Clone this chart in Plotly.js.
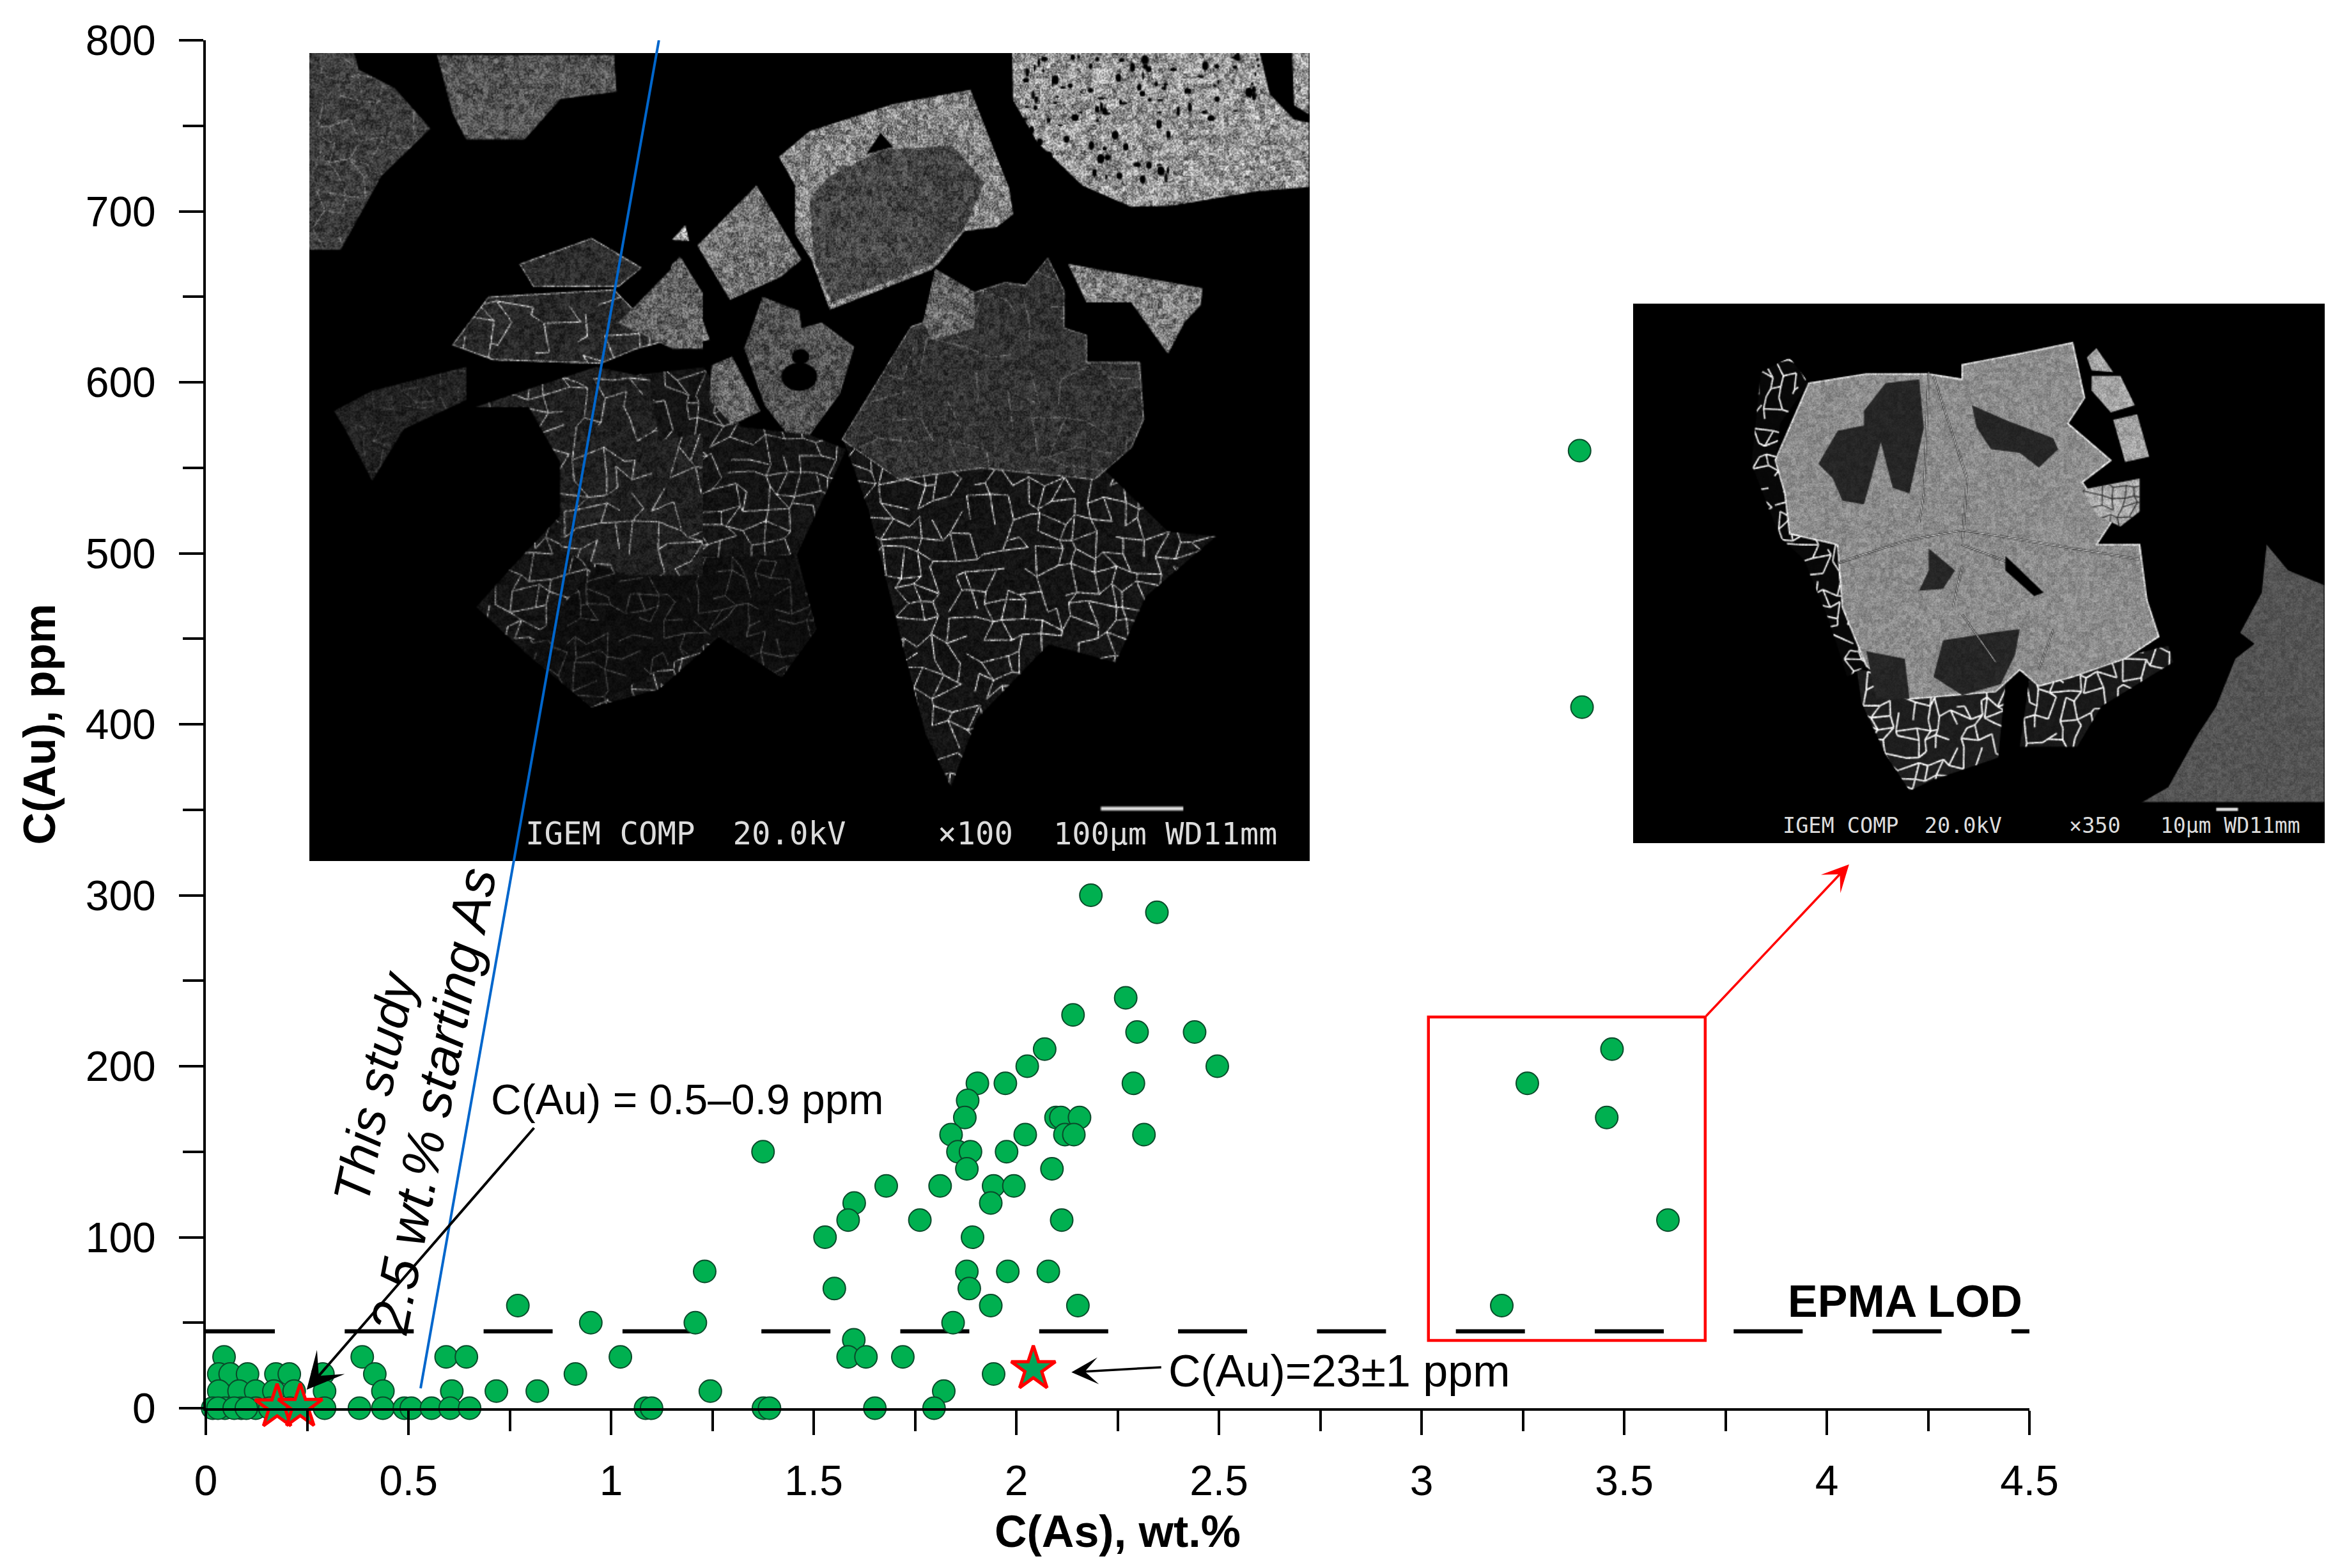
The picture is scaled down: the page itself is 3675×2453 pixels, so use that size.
<!DOCTYPE html>
<html><head><meta charset="utf-8">
<script src="https://cdn.plot.ly/plotly-3.0.1.min.js"></script>
<style>html,body{margin:0;padding:0;background:#fff}</style></head>
<body><div id="chart" style="width:3675px;height:2453px"></div>
<script>
// ---------- data ----------
var asValues = [
 2.184,2.347,2.27,2.14,2.298,2.44,2.07,2.027,2.496,1.904,1.973,2.289,1.88,1.873,2.098,2.11,2.156,1.839,2.022,2.12,2.142,2.315,
 1.856,1.887,1.976,1.375,1.878,2.088,1.679,1.812,1.944,1.994,1.60,1.937,1.585,1.762,2.112,1.528,1.892,1.231,1.878,1.979,2.079,
 1.551,1.884,1.937,2.152,1.208,1.844,1.599,1.585,1.629,1.72,1.944,1.245,1.821,1.085,1.10,1.376,1.391,1.651,1.797,
 3.47,3.261,3.457,3.608,3.198,3.39,3.396,
 0.77,0.95,0.912,1.023,0.386,0.593,0.643,
 0.045,0.032,0.06,0.103,0.173,0.206,0.289,0.417,0.032,0.082,0.123,0.168,0.218,0.293,0.437,0.607,0.717,0.818,
 0.017,0.047,0.0875,0.123,0.158,0.208,0.293,0.379,0.437,0.49,0.507,0.557,0.603,0.651,0.03,0.07,0.1];
var auValues = [
 300,290,240,230,220,220,210,200,200,190,190,190,180,170,170,170,170,160,160,160,160,160,
 150,150,150,150,140,140,130,130,130,130,120,120,110,110,110,100,100,80,80,80,80,
 70,70,60,60,50,50,40,30,30,30,20,10,10,0,0,0,0,0,0,
 210,190,170,110,60,560,410,
 60,50,20,30,30,30,30,
 30,20,20,20,20,20,20,20,10,10,10,10,10,10,10,10,10,10,
 0,0,0,0,0,0,0,0,0,0,0,0,0,0,0,0,0];
var starAs = [0.176,0.233,2.042];
var starAu = [0.7,0.9,23];
var lodX = [0,4.5], lodY = [45,45];
var trendX = [0.53,1.118], trendY = [11.6,800];
var boxX0=3.017, boxX1=3.70, boxY0=39.6, boxY1=228.8;
var xTickVals=[0,0.5,1,1.5,2,2.5,3,3.5,4,4.5], xTickText=['0','0.5','1','1.5','2','2.5','3','3.5','4','4.5'];
var yTickVals=[0,100,200,300,400,500,600,700,800];

// ---------- layout frame, in pixels ----------
var W=3675,H=2453,L=322,R=3175,T=63,B=2203;
function px(x){return (x-L)/(R-L);}
function py(y){return (B-y)/(B-T);}
var FONT='"Liberation Sans", Arial, sans-serif', MONO='"DejaVu Sans Mono", monospace', RED='#ff0000';

// ---------- micrograph sketches (pictures, painted then given to Plotly as layout images) ----------
function hash(i,j){var s=Math.sin(i*127.1+j*311.7)*43758.5453;return s-Math.floor(s);}
function mk(w,h,scale){var c=document.createElement('canvas');c.width=Math.round(w*scale);c.height=Math.round(h*scale);var g=c.getContext('2d');g.fillStyle='#000';g.fillRect(0,0,c.width,c.height);g.scale(scale,scale);return [c,g];}
function path(g,p){g.beginPath();p.forEach(function(q,i){i?g.lineTo(q[0],q[1]):g.moveTo(q[0],q[1]);});g.closePath();}
function fill(g,p,l){path(g,p);g.fillStyle='rgb('+l+','+l+','+l+')';g.fill();}
function veins(g,p,seed,cell,col,lw,keep){g.save();path(g,p);g.clip();
  var xs=p.map(function(a){return a[0]}),ys=p.map(function(a){return a[1]});
  var x0=Math.min.apply(0,xs),x1=Math.max.apply(0,xs),y0=Math.min.apply(0,ys),y1=Math.max.apply(0,ys);
  g.strokeStyle=col;g.lineWidth=lw;keep=keep===undefined?0.3:keep;
  var nx=Math.ceil((x1-x0)/cell)+1,ny=Math.ceil((y1-y0)/cell)+1;
  function P(i,j){return [x0+(i+hash(i+seed,j)*0.95)*cell,y0+(j+hash(i,j+seed)*0.95)*cell];}
  for(var i=0;i<nx;i++)for(var j=0;j<ny;j++){var a=P(i,j),b=P(i+1,j),c=P(i,j+1);
    if(hash(i+seed,j+7)>keep){g.beginPath();g.moveTo(a[0],a[1]);g.lineTo(b[0],b[1]);g.stroke();}
    if(hash(i+3,j+seed)>keep){g.beginPath();g.moveTo(a[0],a[1]);g.lineTo(c[0],c[1]);g.stroke();}}
  g.restore();}
function edge(g,p,col,lw){path(g,p);g.strokeStyle=col;g.lineWidth=lw;g.stroke();}
function grain(c,amount){var g=c.getContext('2d'),d=g.getImageData(0,0,c.width,c.height),a=d.data;
  for(var y=0;y<c.height;y++)for(var x=0;x<c.width;x++){var k=(y*c.width+x)*4;if(a[k]<6)continue;
    var n=(hash(x,y)-0.5)*amount*a[k]+(hash(x>>2,y>>2)-0.5)*amount*0.6*a[k];var v=Math.max(0,Math.min(255,a[k]+n));a[k]=a[k+1]=a[k+2]=v;}
  g.putImageData(d,0,0);}

function paintLarge(){
  var x0=484,y0=83,w=1565,h=1264,r=mk(w,h,0.5),c=r[0],g=r[1];
  function Z5(l){return l.map(function(q){return [1050+q[0]/1.568-x0,q[1]/2.24-y0];});}
  function Z4(l){return l.map(function(q){return [q[0]/1.4255-x0,q[1]/1.742-y0];});}
  function D(l){return l.map(function(q){return [q[0]*2.344-x0,q[1]*2.344-y0];});}
  var b1=Z4([[690,145],[790,145],[800,190],[880,240],[960,350],[850,480],[760,680],[690,680]]);
  fill(g,b1,62);veins(g,b1,3,30,'rgba(190,190,190,.45)',1.5,0.45);
  var b2=Z4([[975,150],[1370,150],[1375,250],[1250,270],[1170,380],[1040,380],[1010,310]]);fill(g,b2,85);
  var a1=Z5([[838,185],[1445,185],[1470,330],[1530,420],[1566,430],[1566,655],[1440,670],[1230,720],[1130,725],[1010,650],[900,500],[840,350]]);fill(g,a1,150);
  g.fillStyle='#000';
  for(var i=0;i<150;i++){var hx=860+hash(i,1)*640,hy=195+hash(i,2)*470;if(hy>250+(hx-1200)*0+ (hx<1000?(1000-hx)*1.6+200:200)&&hx<1000)continue;if(hy>420+(hx>1250?0:240))continue;var e=Z5([[hx,hy]])[0];g.beginPath();g.ellipse(e[0],e[1],1.5+hash(i,3)*4.5,1.5+hash(i,4)*6,0,0,7);g.fill();}
  fill(g,Z5([[1525,185],[1566,185],[1566,400],[1530,370]]),150);
  var a3=Z5([[265,550],[340,460],[480,395],[545,365],[735,315],[830,660],[840,750],[800,795],[720,810],[660,920],[640,945],[390,1085],[345,910],[305,820],[305,650]]);fill(g,a3,132);
  fill(g,Z5([[385,620],[520,525],[690,510],[770,640],[720,800],[640,930],[395,1060],[350,900],[340,700]]),70);
  fill(g,Z5([[480,540],[515,465],[545,515]]),0);
  fill(g,Z5([[210,650],[320,910],[270,970],[145,1050],[65,860]]),115);
  fill(g,Z5([[35,790],[45,845],[3,840]]),170);
  fill(g,Z5([[0,930],[22,900],[95,1190],[0,1220]]),115);
  var a7=Z5([[225,1040],[315,1090],[320,1150],[370,1130],[450,1215],[415,1380],[330,1545],[290,1530],[230,1420],[180,1220]]);fill(g,a7,82);
  var hole=Z5([[315,1320]])[0];g.beginPath();g.ellipse(hole[0],hole[1],28,22,0,0,7);g.fillStyle='#000';g.fill();
  hole=Z5([[318,1250]])[0];g.beginPath();g.ellipse(hole[0],hole[1],14,12,0,0,7);g.fill();
  // lower left mass with its fine vein network
  var d1=D([[385,255],[470,245],[495,285],[540,290],[565,300],[532,370],[545,420],[522,452],[480,425],[440,460],[395,472],[350,435],[318,405],[345,375],[378,340]]);
  fill(g,d1,20);veins(g,d1,11,26,'rgba(225,225,225,.7)',1.8,0.35);
  var d1b=D([[400,375],[530,370],[545,420],[522,452],[480,425],[395,472],[350,435]]);
  fill(g,d1b,14);veins(g,d1b,13,24,'rgba(190,190,190,.45)',1.3,0.5);
  // lower right mass
  var d2=D([[563,293],[625,272],[715,292],[780,355],[812,358],[765,398],[745,442],[700,430],[652,480],[635,525],[618,490],[600,420],[580,340]]);
  fill(g,d2,20);veins(g,d2,5,27,'rgba(235,235,235,.82)',2,0.3);
  var b3=Z4([[1160,720],[1320,650],[1430,730],[1380,780],[1190,780]]);fill(g,b3,45);edge(g,b3,'rgba(210,210,210,.7)',2);
  var b4=Z4([[1010,940],[1090,810],[1370,790],[1480,930],[1420,950],[1340,990],[1100,980]]);fill(g,b4,40);edge(g,b4,'rgba(220,220,220,.7)',2);veins(g,b4,8,34,'rgba(230,230,230,.75)',2,0.45);
  fill(g,Z4([[1380,880],[1520,705],[1568,800],[1568,950],[1500,950]]),100);
  var b6=Z4([[745,1120],[830,1065],[1040,1000],[1040,1090],[900,1170],[830,1310],[770,1170]]);fill(g,b6,34);veins(g,b6,14,20,'rgba(170,170,170,.35)',1.2,0.6);
  var b7=Z4([[1060,1110],[1180,1060],[1330,1000],[1450,1030],[1470,1200],[1568,1180],[1568,1568],[1400,1568],[1250,1500],[1250,1260],[1180,1110]]);fill(g,b7,32);veins(g,b7,2,30,'rgba(225,225,225,.75)',1.8,0.4);
  var a8=Z5([[650,945],[745,1025],[820,990],[870,1000],[925,905],[965,1020],[965,1150],[1020,1175],[1020,1270],[1150,1270],[1160,1470],[1130,1568],[1040,1680],[760,1640],[560,1680],[420,1540],[555,1225],[590,1145],[620,1130]]);fill(g,a8,50);edge(g,a8,'rgba(190,190,190,.55)',2);veins(g,a8,21,40,'rgba(200,200,200,.4)',1.3,0.7);
  fill(g,Z5([[650,945],[745,1025],[745,1150],[640,1190],[620,1130]]),100);
  var a9=Z5([[975,925],[1305,1010],[1300,1070],[1260,1130],[1220,1240],[1130,1060],[1020,1060]]);fill(g,a9,125);
  fill(g,Z5([[100,1280],[150,1250],[220,1440],[150,1490],[95,1400]]),100);
  fill(g,D([[207,552],[218,548],[235,575],[207,575]]),60);
  grain(c,0.85);
  var g2=c.getContext('2d');g2.setTransform(0.5,0,0,0.5,0,0);g2.fillStyle='#000';g2.fillRect(0,1190,w,74);g2.fillStyle='#ddd';g2.fillRect(1723-x0,1262-y0,129,6);
  return c.toDataURL('image/png');
}
function paintSmall(){
  var x0=2555,y0=475,w=1082,h=844,r=mk(w,h,0.6),c=r[0],g=r[1];
  function Z(l){return l.map(function(q){return [2500+q[0]/1.334-x0,450+q[1]/1.742-y0];});}
  var low=Z([[1395,700],[1440,770],[1515,810],[1515,1405],[1130,1405],[1190,1360],[1250,1220],[1290,1140],[1330,1010],[1370,970],[1340,940],[1385,830]]);fill(g,low,84);
  var rim1=Z([[540,1040],[850,1080],[835,1280],[700,1340],[650,1370],[600,1270],[550,1130]]);fill(g,rim1,30);veins(g,rim1,4,20,'rgba(255,255,255,.95)',2.6,0.3);
  var rim2=Z([[900,1070],[1190,975],[1200,1020],[1050,1140],[1000,1250],[880,1250]]);fill(g,rim2,25);veins(g,rim2,9,20,'rgba(255,255,255,.95)',2.6,0.3);
  var rim3=Z([[340,230],[400,190],[440,260],[380,370],[370,470],[390,560],[400,670],[500,700],[510,870],[560,1030],[520,1060],[480,900],[430,740],[380,680],[320,480]]);fill(g,rim3,8);veins(g,rim3,6,18,'rgba(255,255,255,.95)',2.4,0.5);
  var main=Z([[370,470],[440,260],[560,235],[690,235],[760,250],[760,210],[880,180],[990,150],[1015,300],[980,370],[1070,470],[1010,530],[1070,640],[1040,700],[1130,700],[1145,850],[1170,950],[1100,1010],[990,1060],[920,1085],[880,1040],[830,1100],[650,1120],[560,1030],[510,870],[500,700],[400,670],[390,560]]);
  fill(g,main,140);edge(g,main,'rgba(240,240,240,.9)',2.5);
  [[[460,480],[500,390],[555,375],[555,335],[600,260],[670,250],[680,380],[650,560],[615,545],[590,420],[570,520],[555,590],[510,580],[490,520]],
   [[780,320],[850,360],[950,410],[960,440],[920,490],[880,450],[820,440],[790,380]],
   [[690,710],[745,770],[720,820],[670,825],[690,770]],
   [[700,1060],[720,960],[820,940],[880,930],[870,1000],[840,1080],[760,1110]],
   [[560,990],[640,1010],[650,1120],[580,1120]]].forEach(function(p){fill(g,Z(p),38);});
  [[[1020,190],[1040,165],[1075,230],[1030,225]],[[1030,240],[1090,240],[1120,320],[1070,340],[1030,280]],[[1075,360],[1125,345],[1150,460],[1100,475]]].forEach(function(p){fill(g,Z(p),165);});
  var m=Z([[1010,550],[1130,520],[1130,610],[1090,650],[1040,620]]);fill(g,m,175);veins(g,m,1,18,'rgba(40,40,40,.8)',2);
  [[[690,230],[680,560],[670,640]],[[700,240],[770,520],[760,700],[860,750],[920,830]],[[500,750],[640,690],[760,660],[1130,740]],[[740,870],[760,760]],[[760,890],[830,1020]],[[950,930],[920,1040]]].forEach(function(l){
    var p=Z(l);g.beginPath();p.forEach(function(q,i){i?g.lineTo(q[0],q[1]):g.moveTo(q[0],q[1]);});g.strokeStyle='#111';g.lineWidth=3;g.stroke();g.strokeStyle='rgba(255,255,255,.8)';g.lineWidth=1.5;g.stroke();});
  fill(g,Z([[850,730],[930,830],[910,840],[850,770]]),0);
  grain(c,0.3);
  g.setTransform(0.6,0,0,0.6,0,0);g.fillStyle='#000';g.fillRect(0,1255-y0-1,w,70);g.fillStyle='#ddd';g.fillRect(3467-x0,1263-y0,34,5);
  return c.toDataURL('image/png');
}

// ---------- traces ----------
var traces=[
 {type:'scatter',mode:'lines',x:lodX,y:lodY,line:{color:'#000',width:6.5,dash:'108px,109.3px'},cliponaxis:false,showlegend:false,hoverinfo:'skip'},
 {type:'scatter',mode:'markers',x:asValues,y:auValues,cliponaxis:false,showlegend:false,
  marker:{symbol:'circle',size:35,color:'#00b050',line:{color:'#0a4a2a',width:2}}},
 {type:'scatter',mode:'markers',x:starAs,y:starAu,cliponaxis:false,showlegend:false,
  marker:{symbol:'star',size:52,color:'#00a65a',line:{color:RED,width:5}}},
 {type:'scatter',mode:'lines',x:trendX,y:trendY,line:{color:'#0066cc',width:4},cliponaxis:false,showlegend:false,hoverinfo:'skip'}
];

function note(text,x,y,size,opts){var a={text:text,xref:'paper',yref:'paper',x:px(x),y:py(y),showarrow:false,xanchor:'left',yanchor:'middle',
  font:{family:FONT,size:size,color:'#000'}};for(var k in opts){a[k]=opts[k];}return a;}
function monoNote(text,x,y,size){return note(text,x,y,size,{font:{family:MONO,size:size,color:'#dcdcdc'}});}
function arrow(tx,ty,hx,hy,col,head,scale,w){return {xref:'x',yref:'y',axref:'x',ayref:'y',x:hx,y:hy,ax:tx,ay:ty,text:'',showarrow:true,arrowcolor:col,arrowhead:head,arrowsize:scale,arrowwidth:w,standoff:0,startstandoff:0};}

var annotations=[
 note('C(Au) = 0.5–0.9 ppm',766,1720,66),
 note('C(Au)=23±1 ppm',1826,2145,70),
 note('<b>EPMA LOD</b>',2795,2036,70),
 note('<i>This study</i>',586,1700,80,{xanchor:'center',textangle:-78}),
 note('<i>2.5 wt.% starting As</i>',678,1722,84,{xanchor:'center',textangle:-79}),
 monoNote('IGEM COMP  20.0kV',820,1304,49),
 monoNote('×100',1465,1304,49),
 monoNote('100μm WD11mm',1646,1304,48.5),
 monoNote('IGEM COMP  20.0kV',2787,1291,33.5),
 monoNote('×350',3235,1291,33.5),
 monoNote('10μm WD11mm',3378,1291,33),
 arrow(0.812,164.5,0.249,10.8,'#000',3,2.4,4),
 arrow(2.36,24,2.136,21,'#000',3,2,3.5),
 arrow(boxX1,boxY1,4.055,318,RED,3,2,3.5)
];

var axisCommon={showline:true,linecolor:'#000',linewidth:4,ticks:'outside',tickcolor:'#000',tickwidth:4,ticklen:38,
  showgrid:false,zeroline:false,tickfont:{family:FONT,size:66,color:'#000'}};

var layout=Object.assign({width:W,height:H,margin:{l:L,r:W-R,t:T,b:H-B,pad:0},paper_bgcolor:'#fff',plot_bgcolor:'rgba(0,0,0,0)',showlegend:false,
 xaxis:Object.assign({},axisCommon,{range:[0,4.5],tickmode:'array',tickvals:xTickVals,ticktext:xTickText,ticklabelstandoff:15,
   minor:{dtick:0.25,ticks:'outside',ticklen:32,tickwidth:4,tickcolor:'#000'},
   title:{text:'<b>C(As), wt.%</b>',font:{family:FONT,size:70,color:'#000'},standoff:20}}),
 yaxis:Object.assign({},axisCommon,{range:[0,800],tickmode:'array',tickvals:yTickVals,ticklabelstandoff:23,
   minor:{dtick:50,ticks:'outside',ticklen:32,tickwidth:4,tickcolor:'#000'},
   title:{text:'<b>C(Au), ppm</b>',font:{family:FONT,size:70,color:'#000'},standoff:25}}),
 shapes:[{type:'rect',xref:'x',yref:'y',x0:boxX0,x1:boxX1,y0:boxY0,y1:boxY1,line:{color:RED,width:4.5},fillcolor:'rgba(0,0,0,0)'}],
 annotations:annotations,
 images:[
  {source:paintLarge(),xref:'paper',yref:'paper',x:px(484),y:py(83),sizex:(2049-484)/(R-L),sizey:(1347-83)/(B-T),xanchor:'left',yanchor:'top',sizing:'stretch',layer:'below'},
  {source:paintSmall(),xref:'paper',yref:'paper',x:px(2555),y:py(475),sizex:(3637-2555)/(R-L),sizey:(1319-475)/(B-T),xanchor:'left',yanchor:'top',sizing:'stretch',layer:'below'}
 ]});
Plotly.newPlot('chart',traces,layout,{displayModeBar:false,responsive:false});
</script></body></html>
